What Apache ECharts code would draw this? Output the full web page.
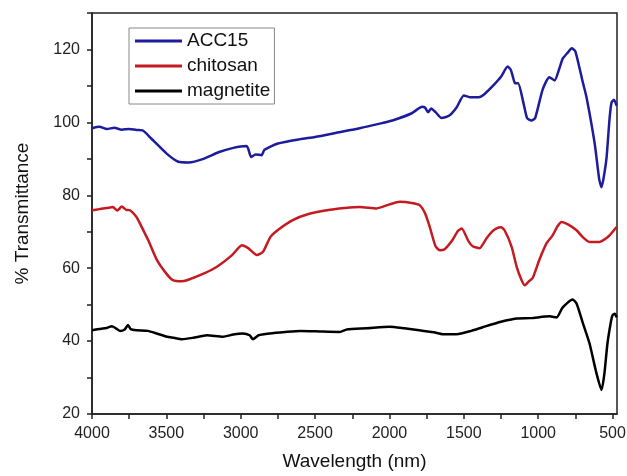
<!DOCTYPE html>
<html>
<head>
<meta charset="utf-8">
<script src="https://cdn.jsdelivr.net/npm/echarts@6/dist/echarts.min.js"></script>
<style>
  html, body { margin: 0; padding: 0; background: #fff; }
  #chart { width: 627px; height: 476px; }
</style>
</head>
<body>
<div id="chart"></div>
<script>
// wavenumber positions and % transmittance
var accWave = [4000, 3950, 3900, 3850, 3800, 3750, 3700, 3660, 3600, 3500, 3420, 3350, 3250, 3150, 3050, 2960, 2930, 2900, 2860, 2840, 2750, 2600, 2500, 2350, 2200, 2050, 1980, 1850, 1780, 1760, 1740, 1720, 1690, 1650, 1600, 1550, 1500, 1460, 1400, 1360, 1300, 1250, 1205, 1185, 1170, 1155, 1135, 1100, 1075, 1045, 1020, 970, 925, 890, 860, 835, 800, 775, 750, 700, 675, 620, 590, 574, 555, 540, 520, 507, 490, 473];
var accT = [98.4, 98.8, 98.2, 98.5, 98.0, 98.2, 97.9, 97.8, 95.5, 91.5, 89.2, 89.0, 90.0, 91.8, 93.0, 93.5, 90.5, 91.2, 91.0, 92.5, 94.2, 95.4, 96.0, 97.2, 98.4, 99.8, 100.5, 102.5, 104.3, 104.0, 102.8, 103.8, 102.8, 101.2, 101.8, 104.0, 107.4, 106.9, 106.9, 107.8, 110.2, 112.5, 115.3, 114.5, 112.5, 110.7, 110.7, 105.5, 101.2, 100.5, 101.2, 109.0, 112.4, 111.5, 114.5, 117.5, 119.2, 120.3, 119.5, 111.0, 106.9, 94.2, 84.5, 82.2, 86.0, 90.4, 101.0, 105.4, 106.2, 104.6];

var chitWave = [4000, 3950, 3900, 3860, 3830, 3800, 3770, 3745, 3700, 3678, 3620, 3563, 3500, 3456, 3400, 3362, 3250, 3160, 3060, 2992, 2950, 2892, 2850, 2800, 2750, 2650, 2550, 2421, 2300, 2200, 2086, 2000, 1931, 1850, 1797, 1760, 1729, 1690, 1660, 1629, 1580, 1540, 1514, 1470, 1440, 1394, 1347, 1310, 1280, 1250, 1226, 1178, 1145, 1115, 1091, 1060, 1037, 990, 944, 903, 870, 843, 800, 742, 700, 655, 588, 550, 520, 473];
var chitT = [75.9, 76.2, 76.5, 76.8, 75.8, 76.9, 76.0, 75.9, 74.0, 72.3, 67.5, 62.2, 58.5, 56.7, 56.4, 56.7, 58.5, 60.4, 63.5, 66.3, 65.5, 63.6, 64.5, 68.6, 70.5, 73.2, 74.8, 75.9, 76.5, 76.8, 76.4, 77.5, 78.2, 77.9, 77.3, 75.0, 71.3, 66.0, 64.9, 65.2, 67.5, 70.2, 70.9, 67.5, 66.0, 65.5, 68.2, 70.0, 70.9, 71.2, 70.4, 65.8, 60.4, 57.0, 55.3, 56.5, 57.3, 62.5, 66.8, 69.0, 71.5, 72.7, 72.0, 70.4, 68.5, 67.2, 67.2, 68.0, 69.0, 71.3];

var magWave = [4000, 3950, 3900, 3866, 3840, 3812, 3780, 3758, 3740, 3700, 3624, 3560, 3496, 3450, 3395, 3320, 3227, 3120, 3050, 2986, 2940, 2918, 2880, 2804, 2700, 2600, 2450, 2334, 2287, 2150, 2000, 1900, 1800, 1700, 1642, 1548, 1450, 1373, 1250, 1145, 1050, 923, 876, 836, 769, 742, 700, 655, 610, 574, 555, 534, 510, 500, 485, 473];
var magT = [43.0, 43.3, 43.6, 44.1, 43.5, 42.8, 43.2, 44.4, 43.3, 43.0, 42.8, 42.0, 41.2, 40.9, 40.5, 40.9, 41.6, 41.2, 41.8, 42.1, 41.6, 40.5, 41.6, 42.1, 42.5, 42.8, 42.6, 42.5, 43.2, 43.5, 43.9, 43.5, 43.0, 42.4, 41.9, 41.9, 42.8, 43.8, 45.3, 46.2, 46.3, 46.8, 46.5, 49.2, 51.4, 50.3, 45.0, 39.4, 31.5, 26.6, 31.0, 39.4, 45.5, 47.1, 47.5, 46.5];

var xTicks = [500, 750, 1000, 1250, 1500, 1750, 2000, 2250, 2500, 2750, 3000, 3250, 3500, 3750, 4000];
var xLabels = [500, 1000, 1500, 2000, 2500, 3000, 3500, 4000];

function pairs(xs, ys) {
  return xs.map(function (x, i) { return [x, ys[i]]; });
}

var font = "'Liberation Sans', Arial, sans-serif";
var chart = echarts.init(document.getElementById("chart"));

var option = {
  backgroundColor: "#fff",
  animation: false,
  grid: {
    left: 92,
    right: 10,
    top: 13,
    bottom: 62,
    containLabel: false,
    outerBoundsMode: "none",
    show: true,
    borderColor: "#222",
    borderWidth: 1.5
  },
  legend: {
    left: 129,
    top: 28,
    orient: "vertical",
    borderColor: "#888",
    borderWidth: 1,
    padding: [3, 4, 3, 6],
    itemGap: 5,
    itemWidth: 47,
    itemHeight: 3,
    icon: "rect",
    textStyle: { fontFamily: font, fontSize: 19, color: "#111", lineHeight: 20 },
    data: ["ACC15", "chitosan", "magnetite"]
  },
  xAxis: {
    type: "value",
    inverse: true,
    min: 470,
    max: 4000,
    name: "Wavelength (nm)",
    nameLocation: "middle",
    nameGap: 38,
    nameTextStyle: { fontFamily: font, fontSize: 19, color: "#111" },
    splitLine: { show: false },
    axisLine: { lineStyle: { color: "#222", width: 1.5 } },
    axisTick: { length: 5, lineStyle: { color: "#222", width: 1.5 }, customValues: xTicks },
    axisLabel: {
      customValues: xLabels,
      margin: 12,
      fontFamily: font,
      fontSize: 16,
      color: "#222",
      formatter: function (v) { return String(v); }
    }
  },
  yAxis: {
    type: "value",
    min: 20,
    max: 130,
    interval: 10,
    name: "% Transmittance",
    nameLocation: "middle",
    nameGap: 60,
    nameTextStyle: { fontFamily: font, fontSize: 19, color: "#111" },
    splitLine: { show: false },
    axisLine: { lineStyle: { color: "#222", width: 1.5 } },
    axisTick: { length: 5, lineStyle: { color: "#222", width: 1.5 } },
    axisLabel: {
      margin: 12,
      fontFamily: font,
      fontSize: 16,
      color: "#222",
      formatter: function (v) { return v % 20 === 0 && v <= 120 ? String(v) : ""; }
    }
  },
  series: [
    {
      name: "ACC15",
      type: "line",
      symbol: "none",
      smooth: 0.2,
      color: "#1c1c9c",
      lineStyle: { width: 2.5, color: "#1c1c9c" },
      data: pairs(accWave, accT)
    },
    {
      name: "chitosan",
      type: "line",
      symbol: "none",
      smooth: 0.2,
      color: "#c41a20",
      lineStyle: { width: 2.5, color: "#c41a20" },
      data: pairs(chitWave, chitT)
    },
    {
      name: "magnetite",
      type: "line",
      symbol: "none",
      smooth: 0.2,
      color: "#000",
      lineStyle: { width: 2.5, color: "#000" },
      data: pairs(magWave, magT)
    }
  ]
};

chart.setOption(option);
</script>
</body>
</html>
